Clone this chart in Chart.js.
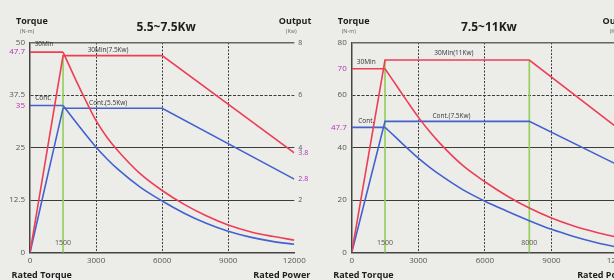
<!DOCTYPE html>
<html>
<head>
<meta charset="utf-8">
<script src="https://cdn.jsdelivr.net/npm/chart.js@4.4.1/dist/chart.umd.min.js"></script>
<style>
  html, body { margin: 0; padding: 0; background: #ecece9; overflow: hidden; width: 614px; height: 280px; }
  .box { position: absolute; top: 0; height: 280px; }
</style>
</head>
<body>
<div class="box" style="left:0;width:320px"><canvas id="chartA" width="320" height="280"></canvas></div>
<div class="box" style="left:320px;width:330px"><canvas id="chartB" width="330" height="280"></canvas></div>
<script>
// speed axis (rpm)
const speedTicks = [0, 3000, 6000, 9000, 12000];
const curveSpeed = [1500, 2000, 2500, 3000, 3500, 4000, 5000, 6000, 7000, 8000, 9000, 10000, 11000, 12000];
const flatSpeed = [0, 1500];

// 5.5~7.5Kw
const aTorque30 = [47.7, 42.0, 36.5, 31.4, 27.4, 24.2, 18.8, 14.8, 11.5, 8.8, 6.6, 5.0, 3.9, 3.0];
const aTorqueCont = [35, 31.6, 28.3, 25.1, 22.3, 19.8, 15.6, 12.3, 9.4, 7.0, 5.1, 3.7, 2.7, 2.0];
const aFlat30 = [47.7, 47.7];
const aFlatCont = [35, 35];
const aPowerSpeed = [0, 1500, 6000, 12000];
const aPower30 = [0, 7.5, 7.5, 3.8];
const aPowerCont = [0, 5.5, 5.5, 2.8];
const aRatedSpeed = [1500];
const aRatedPower = [7.5];
const aTorqueTicks = [0, 12.5, 25, 35, 37.5, 47.7, 50];
const aTorqueMarked = [35, 47.7];
const aPowerTicks = [2, 2.8, 3.8, 4, 6, 8];
const aPowerMarked = [2.8, 3.8];

// 7.5~11Kw
const bTorque30 = [70, 63.8, 57.6, 51.6, 46.2, 41.4, 33.2, 27.0, 21.6, 17.0, 13.2, 10.2, 7.8, 5.8];
const bTorqueCont = [47.7, 43.8, 39.8, 36, 32.6, 29.5, 24, 19.6, 15.8, 12.2, 8.9, 6.2, 3.9, 2.0];
const bFlat30 = [70, 70];
const bFlatCont = [47.7, 47.7];
const bPowerSpeed = [0, 1500, 8000, 12000];
const bPower30 = [0, 11, 11, 7.1];
const bPowerCont = [0, 7.5, 7.5, 5.0];
const bRatedSpeed = [1500, 8000];
const bRatedPower = [11, 11];
const bTorqueTicks = [0, 20, 40, 47.7, 60, 70, 80];
const bTorqueMarked = [47.7, 70];
const bPowerTicks = [3, 6, 9, 12];
const bPowerMarked = [];

const RED = 'rgb(238,62,86)';
const BLUE = 'rgb(66,98,206)';
const GREEN = 'rgb(146,206,88)';
const MAGENTA = 'rgb(176,50,176)';
const GRID = '#3c3c3c';
const TICK = '#555';
const FONT = "'Open Sans', sans-serif";

function pts(xs, ys) { return xs.map((x, i) => ({ x: x, y: ys[i] })); }

function line(data, color, axis, smooth) {
  return {
    data: data, borderColor: color, borderWidth: 1.6, yAxisID: axis,
    showLine: true, pointRadius: 0, fill: false,
    tension: smooth ? 0.4 : 0,
    cubicInterpolationMode: smooth ? 'monotone' : 'default'
  };
}

function txt(ctx, s, x, y, font, color, align) {
  ctx.font = font;
  ctx.fillStyle = color;
  ctx.textAlign = align;
  ctx.fillText(s, x, y);
}

const textPlugin = {
  id: 'texts',
  afterDraw(chart, args, o) {
    const { ctx, chartArea: a, scales } = chart;
    ctx.save();
    ctx.textBaseline = 'middle';
    txt(ctx, o.title, (a.left + a.right) / 2 + 4, a.top - 14.5, 'bold 12px ' + FONT, '#1e1e1e', 'center');
    txt(ctx, 'Torque', a.left - 14, a.top - 21.5, 'bold 9px ' + FONT, '#1e1e1e', 'left');
    txt(ctx, '(N-m)', a.left - 10, a.top - 11.5, '5.5px ' + FONT, '#666', 'left');
    txt(ctx, 'Output', a.right + 17, a.top - 21.5, 'bold 9px ' + FONT, '#1e1e1e', 'right');
    txt(ctx, '(Kw)', a.right - 3, a.top - 11.5, '5.5px ' + FONT, '#666', 'center');
    txt(ctx, 'Rated Torque', a.left - 18.5, a.bottom + 22.3, 'bold 9px ' + FONT, '#1e1e1e', 'left');
    txt(ctx, 'Rated Power', a.right + 16, a.bottom + 22.3, 'bold 9px ' + FONT, '#1e1e1e', 'right');
    o.notes.forEach(n => {
      const x = scales.x.getPixelForValue(n.s);
      const y = scales[n.axis].getPixelForValue(n.v) + n.dy;
      txt(ctx, n.text, x, y, '6.5px ' + FONT, '#333', 'center');
    });
    o.rated.forEach(s => {
      txt(ctx, String(s), scales.x.getPixelForValue(s), scales.y.getPixelForValue(0) - 9.5, '7px ' + FONT, '#555', 'center');
    });
    ctx.restore();
  }
};

function buildChart(id, c) {
  const datasets = [
    line(pts(flatSpeed, c.flat30), RED, 'y', false),
    line(pts(curveSpeed, c.torque30), RED, 'y', true),
    line(pts(c.powerSpeed, c.power30), RED, 'y1', false),
    line(pts(flatSpeed, c.flatCont), BLUE, 'y', false),
    line(pts(curveSpeed, c.torqueCont), BLUE, 'y', true),
    line(pts(c.powerSpeed, c.powerCont), BLUE, 'y1', false)
  ];
  c.rated.forEach((s, i) => {
    datasets.push(line([{ x: s, y: 0 }, { x: s, y: c.ratedPower[i] }], GREEN, 'y1', false));
  });
  const torqueMax = c.torqueTicks[c.torqueTicks.length - 1];
  return new Chart(document.getElementById(id), {
    type: 'scatter',
    data: { datasets: datasets },
    plugins: [textPlugin],
    options: {
      responsive: false,
      animation: false,
      layout: { padding: { top: 42.5, left: 0, right: 0, bottom: 0 } },
      plugins: {
        legend: { display: false },
        tooltip: { enabled: false },
        texts: { title: c.title, notes: c.notes, rated: c.rated }
      },
      scales: {
        x: {
          type: 'linear', min: 0, max: 12000,
          afterBuildTicks: s => { s.ticks = speedTicks.map(v => ({ value: v })); },
          afterFit: s => { s.height = 27.3; },
          ticks: { color: TICK, font: { size: 8, family: FONT }, padding: 3, maxRotation: 0, autoSkip: false, callback: v => String(v) },
          grid: {
            drawTicks: false,
            color: ctx => (ctx.tick && ctx.tick.value > 0 && ctx.tick.value < 12000) ? GRID : 'transparent',
            lineWidth: 1
          },
          border: { color: '#444', width: 1.5, dash: ctx => [2, 1.5] }
        },
        y: {
          type: 'linear', position: 'left', min: 0, max: torqueMax,
          afterBuildTicks: s => { s.ticks = c.torqueTicks.map(v => ({ value: v })); },
          afterFit: s => { s.width = c.leftWidth; },
          ticks: {
            font: { size: 8, family: FONT }, padding: 5, autoSkip: false,
            color: ctx => c.torqueMarked.includes(ctx.tick.value) ? MAGENTA : TICK,
            callback: v => String(v)
          },
          grid: {
            drawTicks: false,
            color: ctx => {
              if (!ctx.tick) return 'transparent';
              const v = ctx.tick.value;
              if (v === 0 || c.torqueMarked.includes(v)) return 'transparent';
              return v === torqueMax ? '#666' : GRID;
            },
            lineWidth: ctx => (ctx.tick && ctx.tick.value === torqueMax) ? 1.6 : 1
          },
          border: {
            color: '#444', width: 1.5,
            dash: ctx => (ctx.tick && ctx.tick.value === c.dashedTorque) ? [3, 1.5] : []
          }
        },
        y1: {
          type: 'linear', position: 'right', min: 0, max: c.powerMax,
          afterBuildTicks: s => { s.ticks = c.powerTicks.map(v => ({ value: v })); },
          afterFit: s => { s.width = c.rightWidth; },
          ticks: {
            font: { size: 7, family: FONT }, padding: 4, autoSkip: false,
            color: ctx => c.powerMarked.includes(ctx.tick.value) ? MAGENTA : TICK,
            callback: v => String(v)
          },
          grid: { drawOnChartArea: false, drawTicks: false },
          border: { display: false }
        }
      }
    }
  });
}

buildChart('chartA', {
  title: '5.5~7.5Kw',
  flat30: aFlat30, torque30: aTorque30, flatCont: aFlatCont, torqueCont: aTorqueCont,
  powerSpeed: aPowerSpeed, power30: aPower30, powerCont: aPowerCont,
  rated: aRatedSpeed, ratedPower: aRatedPower,
  torqueTicks: aTorqueTicks, torqueMarked: aTorqueMarked, dashedTorque: 37.5,
  powerTicks: aPowerTicks, powerMarked: aPowerMarked, powerMax: 8,
  leftWidth: 30, rightWidth: 25.7,
  notes: [
    { text: '30Min', s: 640, v: 47.7, axis: 'y', dy: -8 },
    { text: '30Min(7.5Kw)', s: 3545, v: 7.5, axis: 'y1', dy: -5 },
    { text: 'Cont.', s: 600, v: 35, axis: 'y', dy: -7 },
    { text: 'Cont.(5.5Kw)', s: 3545, v: 5.5, axis: 'y1', dy: -5.5 }
  ]
});

buildChart('chartB', {
  title: '7.5~11Kw',
  flat30: bFlat30, torque30: bTorque30, flatCont: bFlatCont, torqueCont: bTorqueCont,
  powerSpeed: bPowerSpeed, power30: bPower30, powerCont: bPowerCont,
  rated: bRatedSpeed, ratedPower: bRatedPower,
  torqueTicks: bTorqueTicks, torqueMarked: bTorqueMarked, dashedTorque: 60,
  powerTicks: bPowerTicks, powerMarked: bPowerMarked, powerMax: 12,
  leftWidth: 31.7, rightWidth: 31.9,
  notes: [
    { text: '30Min', s: 657, v: 70, axis: 'y', dy: -6.5 },
    { text: '30Min(11Kw)', s: 4600, v: 11, axis: 'y1', dy: -7 },
    { text: 'Cont.', s: 657, v: 47.7, axis: 'y', dy: -6 },
    { text: 'Cont.(7.5Kw)', s: 4495, v: 7.5, axis: 'y1', dy: -5.5 }
  ]
});
</script>
</body>
</html>
